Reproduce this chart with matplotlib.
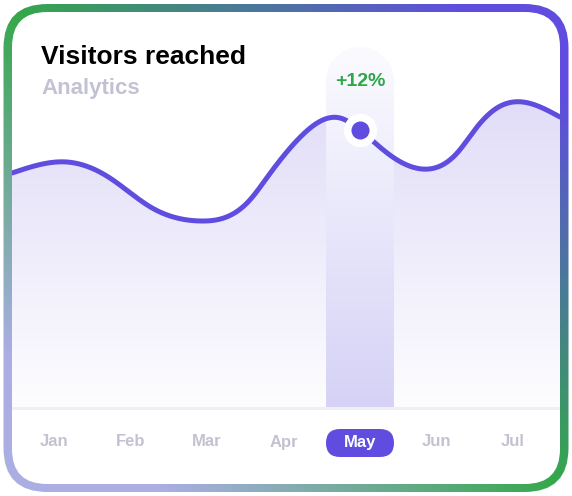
import numpy as np
import matplotlib
matplotlib.use('Agg')
import matplotlib.pyplot as plt
import matplotlib.transforms as mtransforms
from matplotlib.patches import FancyBboxPatch, Polygon
from matplotlib.colors import LinearSegmentedColormap

plt.rcParams['font.family'] = ['Liberation Sans', 'DejaVu Sans']

# data
months = ['Jan', 'Feb', 'Mar', 'Apr', 'May', 'Jun', 'Jul']
highlight = 'May'
change_label = '+12%'

# knots of the smooth visitors curve (x = month index, y = visitors)
curve_pos = [-0.55, 0.17, 0.73, 1.26, 1.91, 2.56, 2.78, 3.22, 3.74, 4.0,
             4.39, 4.81, 5.27, 5.53, 5.79, 6.13, 6.615]
curve_val = [234, 245, 229, 200, 186, 207, 229, 270, 289, 277,
             252, 238, 254, 280, 299, 305, 290]

LINE = '#5f4de0'
LABEL_GREY = '#c3c2d0'


def natural_spline(x, y, xs):
    """Natural cubic spline through the knots, evaluated at xs."""
    x = np.asarray(x, float)
    y = np.asarray(y, float)
    n = len(x)
    h = np.diff(x)
    A = np.zeros((n, n))
    rhs = np.zeros(n)
    A[0, 0] = A[-1, -1] = 1
    for i in range(1, n - 1):
        A[i, i - 1] = h[i - 1]
        A[i, i] = 2 * (h[i - 1] + h[i])
        A[i, i + 1] = h[i]
        rhs[i] = 3 * ((y[i + 1] - y[i]) / h[i] - (y[i] - y[i - 1]) / h[i - 1])
    c = np.linalg.solve(A, rhs)
    b = (y[1:] - y[:-1]) / h - h * (2 * c[:-1] + c[1:]) / 3
    d = (c[1:] - c[:-1]) / (3 * h)
    k = np.clip(np.searchsorted(x, xs) - 1, 0, n - 2)
    dx = xs - x[k]
    return y[k] + b[k] * dx + c[k] * dx ** 2 + d[k] * dx ** 3


W, H = 572, 496
fig = plt.figure(figsize=(W / 100, H / 100), dpi=100)

# card background with gradient border
bg = fig.add_axes([0, 0, 1, 1])
yy, xx = np.mgrid[0:H, 0:W] + 0.5
t = (1 - xx / W + yy / H) / 2
border_cmap = LinearSegmentedColormap.from_list(
    'border', [(0, '#604de0'), (0.1, '#604de0'), (0.5, '#34a84a'),
               (0.85, '#aaaee3'), (1, '#aaaee3')])
border = bg.imshow(t, cmap=border_cmap, vmin=0, vmax=1, extent=[0, W, H, 0],
                   aspect='auto', interpolation='bilinear', zorder=0)
outer = FancyBboxPatch((3.5, 4), 565, 488, boxstyle='round,pad=0,rounding_size=44',
                       fc='none', ec='none')
bg.add_patch(outer)
border.set_clip_path(outer)
bg.add_patch(FancyBboxPatch((12, 12), 548, 472, boxstyle='round,pad=0,rounding_size=35',
                            fc='white', ec='none', zorder=1))
bg.set_xlim(0, W)
bg.set_ylim(H, 0)
bg.axis('off')

bg.text(41, 64, 'Visitors reached', fontsize=19, fontweight='bold', color='black',
        va='baseline', zorder=3)
bg.text(41, 94, 'Analytics', fontsize=16, fontweight='bold', color='#c3c2d2',
        va='baseline', zorder=3)

# chart area
top_px, bot_px = 47, 410
ax = fig.add_axes([12 / W, (H - bot_px) / H, 548 / W, (bot_px - top_px) / H])
xl, xr = curve_pos[0], curve_pos[-1]
ymax = 360

xs = np.linspace(xl, xr, 800)
ys = natural_spline(curve_pos, curve_val, xs)

# gradient fill under the line
poly = ax.fill_between(xs, ys, 0, facecolor='none', edgecolor='none')
grad = np.linspace(0, 1, 256).reshape(-1, 1)
fill_cmap = LinearSegmentedColormap.from_list('fill', ['#fdfdff', '#e1ddf8'])
fill_im = ax.imshow(grad, cmap=fill_cmap, extent=[xl, xr, 0, max(curve_val)],
                    origin='lower', aspect='auto', zorder=1)
fill_im.set_clip_path(poly.get_paths()[0], ax.transData)

# separator under the plot
ax.axhspan(-3, 0, color='#f0eff5', zorder=2, lw=0)

# highlighted month band
hi = months.index(highlight)
bw, ry = 0.444, 34
ang = np.linspace(0, np.pi, 60)
verts = [(hi + bw, 0)] + list(zip(hi + bw * np.cos(ang), ymax - ry + ry * np.sin(ang))) + [(hi - bw, 0)]
band = Polygon(verts, closed=True, fc='none', ec='none')
ax.add_patch(band)
band_cmap = LinearSegmentedColormap.from_list('band', ['#d5d2f6', '#fbfbff'])
band_im = ax.imshow(grad, cmap=band_cmap, extent=[hi - bw, hi + bw, 0, ymax],
                    origin='lower', aspect='auto', zorder=3)
band_im.set_clip_path(band)

# line + marker
ax.plot(xs, ys, color=LINE, lw=3.6, solid_capstyle='round', zorder=4)
hi_val = natural_spline(curve_pos, curve_val, np.array([float(hi)]))[0]
ax.plot(hi, hi_val, 'o', ms=24, mfc='white', mec='none', zorder=5)
ax.plot(hi, hi_val, 'o', ms=13, mfc=LINE, mec='none', zorder=6)
ax.text(hi, 321, change_label, ha='center', va='baseline', fontsize=14,
        fontweight='bold', color='#30a64a', zorder=6)

ax.set_xlim(xl, xr)
ax.set_ylim(-3, ymax)
ax.axis('off')

# month labels, highlighted one inside a pill
px = ax.transData.transform((hi, 0))[0]
bg.add_patch(FancyBboxPatch((px - 34, 429), 68, 28, boxstyle='round,pad=0,rounding_size=14',
                            fc='#604de0', ec='none', zorder=2))
trans = mtransforms.blended_transform_factory(ax.transData, fig.transFigure)
for i, m in enumerate(months):
    ax.text(i, (H - 446.5) / H, m, transform=trans, ha='center', va='baseline',
            fontsize=12, fontweight='bold',
            color='white' if m == highlight else LABEL_GREY, zorder=7)

fig.savefig('out.png', dpi=100)
